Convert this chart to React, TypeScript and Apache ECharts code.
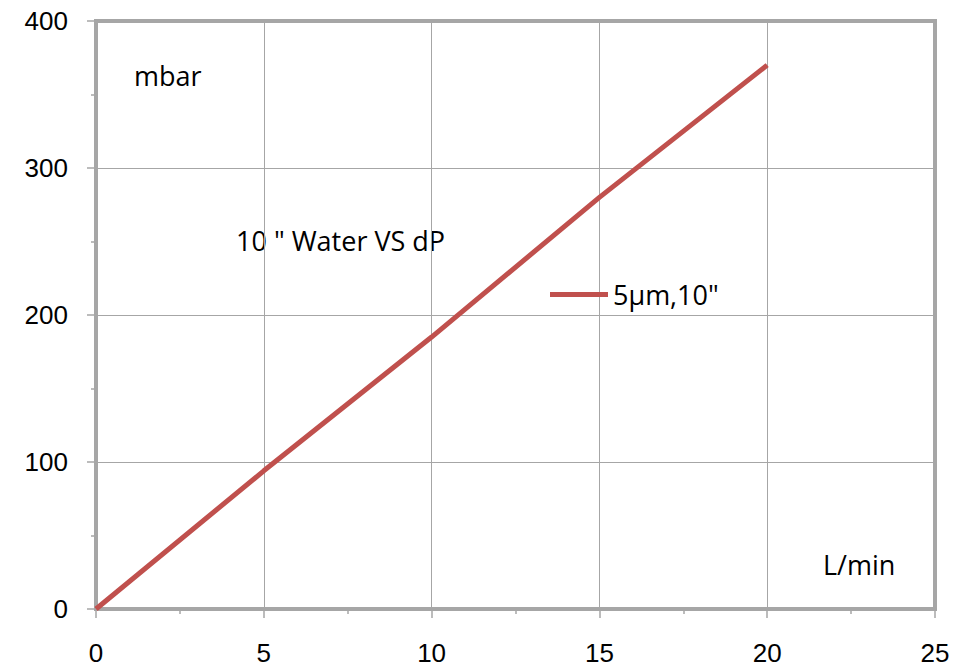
import React, { useEffect, useRef } from "react";
import * as echarts from "echarts";

const flowLpm = [0, 5, 10, 15, 20];
const dpMbar = [0, 94, 185, 280, 370];
const seriesName = '5μm,10"';
const yUnit = "mbar";
const xUnit = "L/min";
const chartTitle = '10 " Water VS dP';

const FONT = "'Open Sans', 'Liberation Sans', sans-serif";
const TICK_FONT = "'Liberation Sans', Arial, sans-serif";
const FS = 26;
const TFS = 27;

export default function App() {
  const ref = useRef<HTMLDivElement>(null);
  useEffect(() => {
    if (!ref.current) return;
    const chart = echarts.init(ref.current, undefined, { renderer: "svg" });
    const axisColor = "#A6A6A6";
    chart.setOption({
      animation: false,
      backgroundColor: "#ffffff",
      grid: {
        left: 96,
        top: 21,
        right: 31,
        bottom: 59,
        show: true,
        borderColor: axisColor,
        borderWidth: 4,
      },
      legend: {
        show: true,
        left: 550,
        top: 281,
        padding: 0,
        itemWidth: 58,
        itemHeight: 14,
        itemGap: 5,
        textStyle: { fontFamily: FONT, fontSize: TFS, color: "#000" },
        data: [{ name: seriesName, icon: "path://M0,0 L58,0 L58,5 L0,5 Z" }],
      },
      xAxis: {
        type: "value",
        min: 0,
        max: 25,
        interval: 5,
        axisLine: { show: true, lineStyle: { color: axisColor, width: 4 } },
        axisTick: { show: true, inside: false, length: 9, lineStyle: { color: axisColor, width: 1.5 } },
        minorTick: { show: true, splitNumber: 2, length: 5, lineStyle: { color: axisColor, width: 1.5 } },
        splitLine: { show: true, lineStyle: { color: axisColor, width: 1 } },
        axisLabel: { fontFamily: TICK_FONT, fontSize: FS, lineHeight: 22, color: "#000", margin: 33 },
      },
      yAxis: {
        type: "value",
        min: 0,
        max: 400,
        interval: 100,
        axisLine: { show: true, lineStyle: { color: axisColor, width: 4 } },
        axisTick: { show: true, inside: false, length: 9, lineStyle: { color: axisColor, width: 1.5 } },
        minorTick: { show: true, splitNumber: 2, length: 5, lineStyle: { color: axisColor, width: 1.5 } },
        splitLine: { show: true, lineStyle: { color: axisColor, width: 1 } },
        axisLabel: { fontFamily: TICK_FONT, fontSize: FS, lineHeight: 22, color: "#000", margin: 28 },
      },
      graphic: [
        { type: "text", x: 134, y: 75, style: { text: yUnit, fontFamily: FONT, fontSize: TFS, fill: "#000", verticalAlign: "middle" } },
        { type: "text", x: 236, y: 240, style: { text: chartTitle, fontFamily: FONT, fontSize: TFS, fill: "#000", verticalAlign: "middle" } },
        { type: "text", x: 823, y: 564, style: { text: xUnit, fontFamily: FONT, fontSize: TFS, fill: "#000", verticalAlign: "middle" } },
      ],
      series: [
        {
          name: seriesName,
          type: "line",
          data: flowLpm.map((x, i) => [x, dpMbar[i]]),
          symbol: "none",
          lineStyle: { color: "#C0504D", width: 5 },
          itemStyle: { color: "#C0504D" },
        },
      ],
    });
    return () => chart.dispose();
  }, []);
  return <div ref={ref} style={{ position: "absolute", left: 0, top: 0, width: 966, height: 668 }} />;
}
